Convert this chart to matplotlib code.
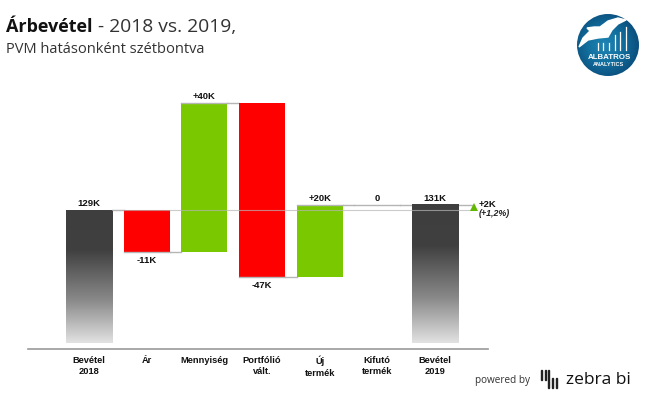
import numpy as np
import matplotlib
matplotlib.use("Agg")
import matplotlib.pyplot as plt
from matplotlib.colors import LinearSegmentedColormap
from matplotlib.patches import Circle, Polygon, Rectangle

# Adatok (ezer Ft, a feliratok kerekitett ertekek)
kategoriak = ["Bevétel\n2018", "Ár", "Mennyiség", "Portfólió\nvált.", "Új\ntermék", "Kifutó\ntermék", "Bevétel\n2019"]
valtozas = [-11.4, 40.3, -47.0, 19.5, 0]
kezdo = 129
zaro = 130.4
cimkek = ["129K", "-11K", "+40K", "-47K", "+20K", "0", "131K"]
kulonbseg = "+2K"
kulonbseg_szazalek = "(+1,2%)"

W, H = 649, 400
ZOLD = "#7ac900"
PIROS = "#ff0000"
VONAL = "#b5b5b5"

plt.rcParams["font.family"] = ["Liberation Sans", "DejaVu Sans"]
fig = plt.figure(figsize=(W / 100, H / 100), dpi=100)

# Pixel koordinatak -> tengely: x 28..488, y 348..90
ax = fig.add_axes([28 / W, 1 - 348.5 / H, 460 / W, 258.5 / H])
also = 129 - (348.5 - 210) / 3.7
xhatar = (-1.058, 6.92)
yhatar = (also, also + 258.5 / 3.7)
ax.set_xticks([])
ax.set_yticks([])
for s in ["top", "left", "right"]:
    ax.spines[s].set_visible(False)
ax.spines["bottom"].set_color("#999999")
ax.spines["bottom"].set_linewidth(1.2)

sz = 0.8
aljak = also + 5.5 / 3.7

# szurke atmenet a ket osszeg oszlophoz
cmap = LinearSegmentedColormap.from_list("osszeg", [(0, "#3e3e3e"), (0.3, "#404040"), (0.68, "#8a8a8a"), (1, "#e2e2e2")])
grad = np.linspace(0, 1, 256).reshape(-1, 1)
for x0, ertek in [(0, kezdo), (6, zaro)]:
    ax.imshow(grad, cmap=cmap, aspect="auto", zorder=2,
              extent=[x0 - sz / 2, x0 + sz / 2, aljak, ertek])
ax.set_xlim(*xhatar)
ax.set_ylim(*yhatar)

# valtozas oszlopok es osszekoto vonalak
szint = kezdo
for i, v in enumerate(valtozas, start=1):
    uj = szint + v
    ax.plot([i - 1 + sz / 2, i - sz / 2], [szint, szint], color=VONAL, lw=1, zorder=1)
    if v != 0:
        ax.bar(i, abs(v), sz, bottom=min(szint, uj), color=ZOLD if v > 0 else PIROS, zorder=2)
        ax.plot([i - sz / 2, i + sz / 2], [uj, uj], color=VONAL, lw=1, zorder=3)
    else:
        ax.plot([i - sz / 2, i + sz / 2], [uj, uj], color=VONAL, lw=1, zorder=1)
    y_cimke = max(szint, uj) + 0.5 if v >= 0 else min(szint, uj) - 1.0
    ax.text(i, y_cimke, cimkek[i], ha="center", va="bottom" if v >= 0 else "top",
            fontsize=6.8, fontweight="bold", color="#111111")
    szint = uj
ax.plot([5 + sz / 2, 6 - sz / 2], [szint, szint], color=VONAL, lw=1, zorder=1)

# a 2018-as szint vegigfut az abran
ax.plot([sz / 2, 6.68], [kezdo, kezdo], color=VONAL, lw=0.8, zorder=3, alpha=0.7)
ax.plot([6 + sz / 2, 6.68], [zaro, zaro], color=VONAL, lw=1, zorder=1)

ax.text(0, kezdo + 0.5, cimkek[0], ha="center", va="bottom", fontsize=6.8, fontweight="bold", color="#111111")
ax.text(6, zaro + 0.5, cimkek[6], ha="center", va="bottom", fontsize=6.8, fontweight="bold", color="#111111")

# kulonbseg nyil
ax.plot([6.68], [(kezdo + zaro) / 2], marker="^", ms=6, color="#62b800", mew=0, zorder=5)
ax.text(6.76, zaro + 0.2, kulonbseg, ha="left", va="center", fontsize=6.8, fontweight="bold", color="#111111")
ax.text(6.76, kezdo - 1.0, kulonbseg_szazalek, ha="left", va="center", fontsize=6.4, fontweight="bold", style="italic", color="#222222")

# kategoria feliratok
for i, k in enumerate(kategoriak):
    ax.annotate(k, (i, also), xytext=(0, -5.2), textcoords="offset points", ha="center", va="top",
                fontsize=6.7, fontweight="bold", color="#111111", linespacing=1.35, annotation_clip=False)

# cim
fig.text(6 / W, 1 - 32 / H, "Árbevétel", fontsize=13, fontweight="bold", family="Open Sans", color="#111111", va="baseline")
fig.text(98 / W, 1 - 32 / H, "- 2018 vs. 2019,", fontsize=13.9, family="Open Sans", color="#333333", va="baseline")
fig.text(6 / W, 1 - 53 / H, "PVM hatásonként szétbontva", fontsize=10.5, family="Open Sans", color="#333333", va="baseline")

# teljes abras reteg a logokhoz (pixel koordinatak)
lo = fig.add_axes([0, 0, 1, 1], facecolor="none")

# Albatros logo
logo_cmap = LinearSegmentedColormap.from_list("logo", ["#1f86b5", "#12709f", "#0b4f7d"])
yy, xx = np.mgrid[-1:1:128j, -1:1:128j]
kor = lo.imshow(np.hypot(xx + 0.1, yy), cmap=logo_cmap, vmin=0, vmax=1.1, aspect="auto",
                extent=[577, 639, 76, 14], zorder=1)
kor.set_clip_path(Circle((608, 45), 31, transform=lo.transData))
lo.add_patch(Polygon([(579, 47), (583, 38), (590, 31), (587, 28), (594, 27), (600, 27), (608, 21),
                      (618, 18), (626, 20), (618, 24), (612, 30), (608, 37), (598, 38), (588, 40)],
                     color="white", zorder=2))
for x0, top in [(598, 43), (603, 43), (609, 43), (615, 35), (620, 32), (626, 27)]:
    lo.plot([x0, x0], [top, 50], color="white", lw=0.9, zorder=2)
lo.text(609, 57.5, "ALBATROS", ha="center", va="center", fontsize=5.7, fontweight="bold", color="white", zorder=3)
lo.text(608, 65, "ANALYTICS", ha="center", va="center", fontsize=4, fontweight="bold", color="white", zorder=3)

# zebra bi logo
lo.text(475, 380, "powered by", ha="left", va="center", fontsize=7.2, color="#333333", family="Open Sans")
for x0, y0, y1 in [(541, 370, 380), (544.5, 370, 380), (548, 370, 388), (552, 378, 388), (555.5, 378, 388)]:
    lo.add_patch(Rectangle((x0, y0), 1.4, y1 - y0, color="#222222"))
lo.text(566, 379.5, "zebra bi", ha="left", va="center", fontsize=12.5, color="#111111", family="Open Sans")

lo.set_xlim(0, W)
lo.set_ylim(H, 0)
lo.axis("off")

fig.savefig("out.png", dpi=100)
